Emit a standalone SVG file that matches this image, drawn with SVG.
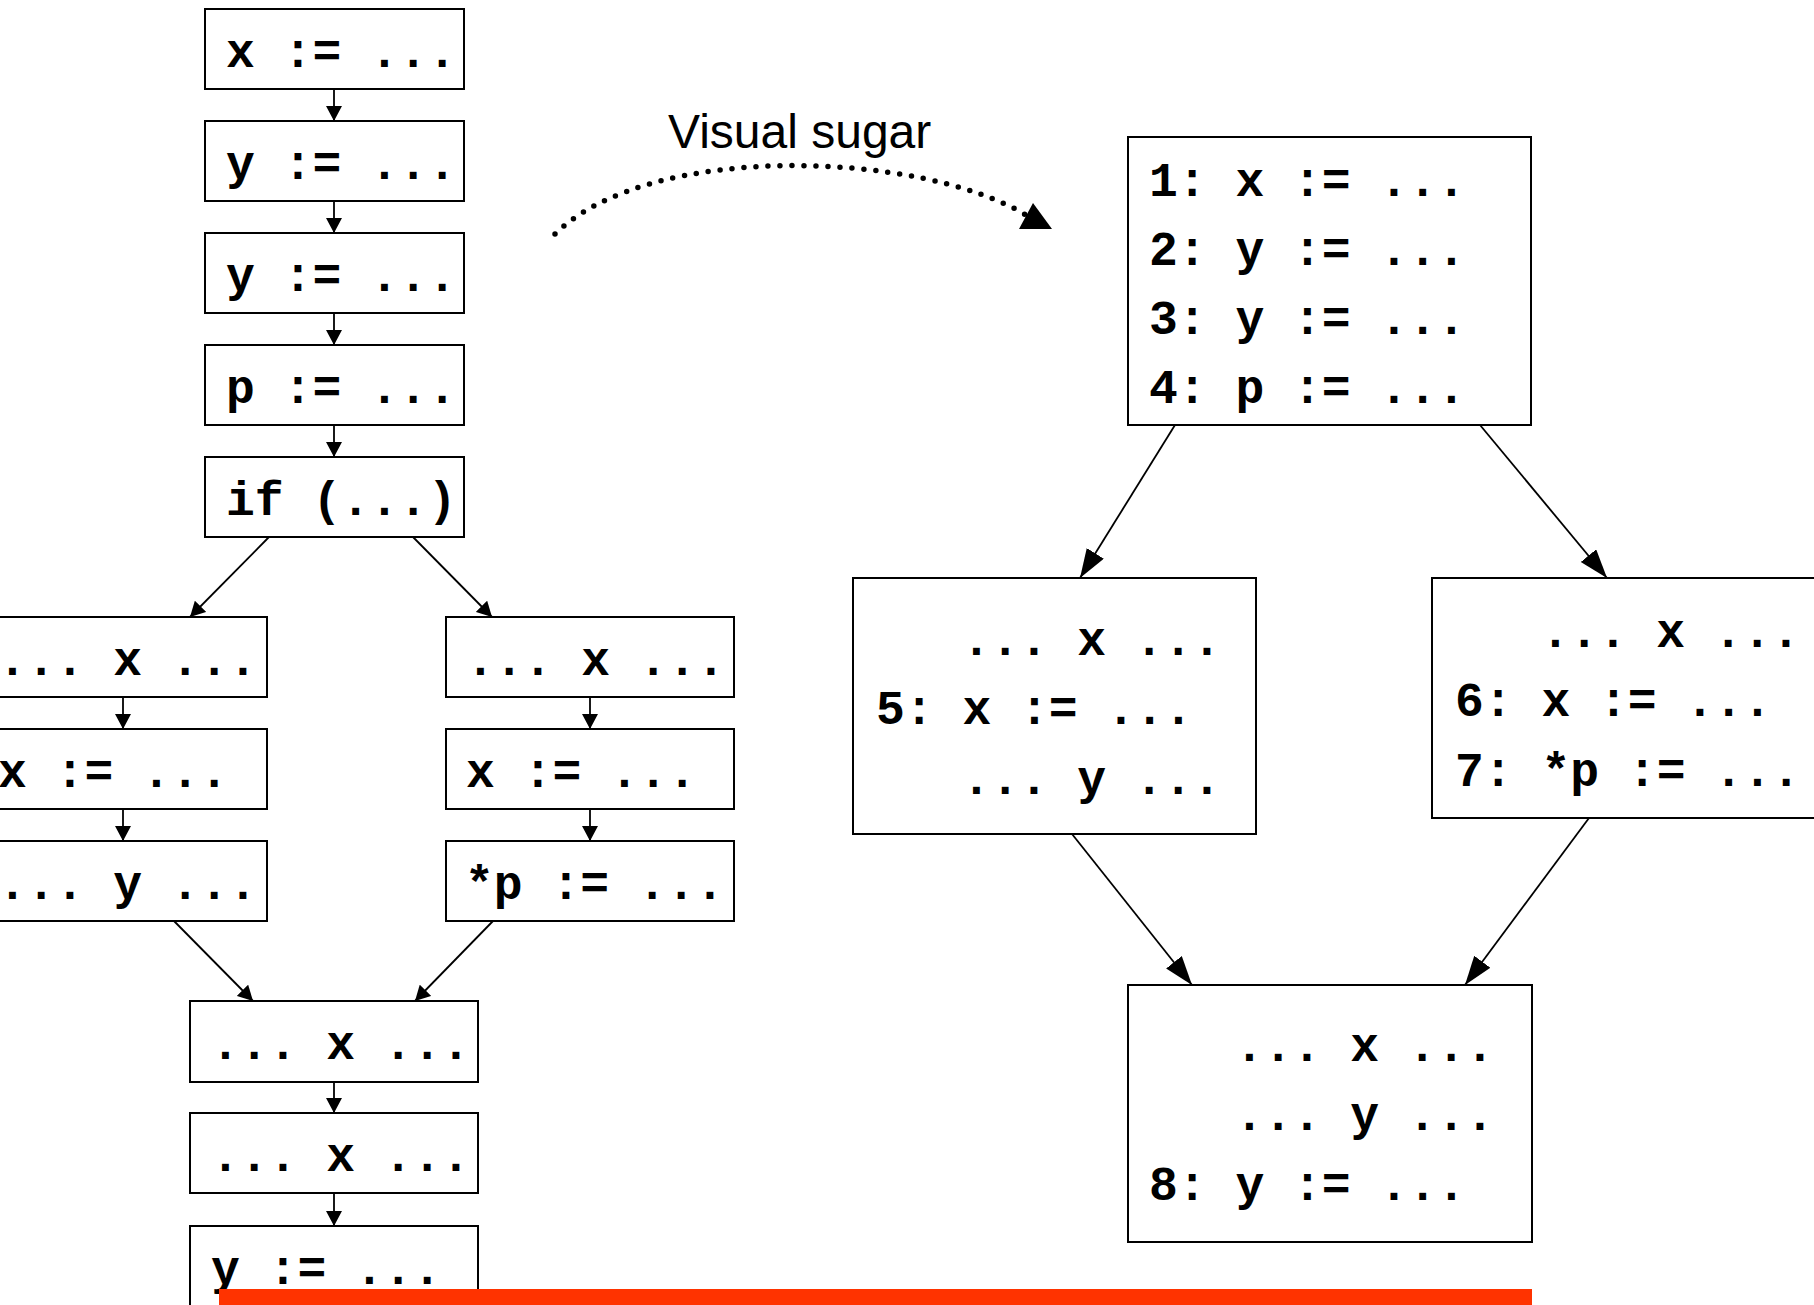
<svg xmlns="http://www.w3.org/2000/svg" width="1814" height="1305" viewBox="0 0 1814 1305">
  <style>
    .box { fill: #fff; stroke: #000; stroke-width: 2; }
    .code { font-family: 'Courier New', 'Liberation Mono', monospace; font-weight: bold; font-size: 48px; fill: #000; }
    .edge { fill: none; stroke: #000; stroke-width: 1.8; }
    .small { marker-end: url(#headS); }
    .big { marker-end: url(#headL); }
    .label { font-family: 'Liberation Sans', Arial, sans-serif; font-size: 48px; fill: #000; }
  </style>
  <defs>
    <marker id="headS" markerUnits="userSpaceOnUse" markerWidth="16" markerHeight="16" refX="15" refY="8" orient="auto">
      <path d="M0,0 L15,8 L0,16 z" fill="#000"/>
    </marker>
    <marker id="headL" markerUnits="userSpaceOnUse" markerWidth="30" markerHeight="22" refX="29" refY="10" orient="auto">
      <path d="M0,0 L29,10 L0,20 z" fill="#000"/>
    </marker>
  </defs>
  <rect width="1814" height="1305" fill="#fff"/>

  <!-- connectors -->
  <g id="connectors">
    <!-- left CFG: straight-line chain -->
    <line class="edge small" x1="334" y1="89" x2="334" y2="121"/>
    <line class="edge small" x1="334" y1="201" x2="334" y2="233"/>
    <line class="edge small" x1="334" y1="313" x2="334" y2="345"/>
    <line class="edge small" x1="334" y1="425" x2="334" y2="457"/>
    <!-- branch out of the if -->
    <line class="edge small" x1="269" y1="537" x2="190" y2="617"/>
    <line class="edge small" x1="413" y1="537" x2="492" y2="617"/>
    <!-- left branch -->
    <line class="edge small" x1="123" y1="697" x2="123" y2="729"/>
    <line class="edge small" x1="123" y1="809" x2="123" y2="841"/>
    <!-- right branch -->
    <line class="edge small" x1="590" y1="697" x2="590" y2="729"/>
    <line class="edge small" x1="590" y1="809" x2="590" y2="841"/>
    <!-- join -->
    <line class="edge small" x1="174" y1="921" x2="253" y2="1001"/>
    <line class="edge small" x1="493" y1="921" x2="415" y2="1001"/>
    <line class="edge small" x1="334" y1="1082" x2="334" y2="1113"/>
    <line class="edge small" x1="334" y1="1193" x2="334" y2="1226"/>

    <!-- "Visual sugar" dotted arc -->
    <path d="M555,234 C650,141 920,151 1026,215" fill="none" stroke="#000" stroke-width="5.5" stroke-linecap="round" stroke-dasharray="0 12"/>
    <polygon points="1052,229 1033,203 1019,229" fill="#000"/>

    <!-- basic-block graph -->
    <line class="edge big" x1="1175" y1="425" x2="1080" y2="578"/>
    <line class="edge big" x1="1480" y1="425" x2="1607" y2="578"/>
    <line class="edge big" x1="1072" y1="834" x2="1192" y2="985"/>
    <line class="edge big" x1="1589" y1="818" x2="1465" y2="985"/>
  </g>

  <!-- left CFG nodes -->
  <g id="n_x1"><rect class="box" x="205" y="9" width="259" height="80"/><text class="code" x="226" y="67">x := ...</text></g>
  <g id="n_y1"><rect class="box" x="205" y="121" width="259" height="80"/><text class="code" x="226" y="179">y := ...</text></g>
  <g id="n_y2"><rect class="box" x="205" y="233" width="259" height="80"/><text class="code" x="226" y="291">y := ...</text></g>
  <g id="n_p"><rect class="box" x="205" y="345" width="259" height="80"/><text class="code" x="226" y="403">p := ...</text></g>
  <g id="n_if"><rect class="box" x="205" y="457" width="259" height="80"/><text class="code" x="226" y="515">if (...)</text></g>

  <g id="n_l1"><rect class="box" x="-21" y="617" width="288" height="80"/><text class="code" x="-2" y="675">... x ...</text></g>
  <g id="n_l2"><rect class="box" x="-21" y="729" width="288" height="80"/><text class="code" x="-2" y="787">x := ...</text></g>
  <g id="n_l3"><rect class="box" x="-21" y="841" width="288" height="80"/><text class="code" x="-2" y="899">... y ...</text></g>

  <g id="n_r1"><rect class="box" x="446" y="617" width="288" height="80"/><text class="code" x="466" y="675">... x ...</text></g>
  <g id="n_r2"><rect class="box" x="446" y="729" width="288" height="80"/><text class="code" x="466" y="787">x := ...</text></g>
  <g id="n_r3"><rect class="box" x="446" y="841" width="288" height="80"/><text class="code" x="465" y="899">*p := ...</text></g>

  <g id="n_j1"><rect class="box" x="190" y="1001" width="288" height="81"/><text class="code" x="211" y="1059">... x ...</text></g>
  <g id="n_j2"><rect class="box" x="190" y="1113" width="288" height="80"/><text class="code" x="211" y="1171">... x ...</text></g>
  <g id="n_j3"><rect class="box" x="190" y="1226" width="288" height="100"/><text class="code" x="211" y="1284">y := ...</text></g>

  <!-- label -->
  <text class="label" x="668" y="148">Visual sugar</text>

  <!-- basic-block nodes -->
  <g id="b1">
    <rect class="box" x="1128" y="137" width="403" height="288"/>
    <text class="code" x="1149" y="196">1: x := ...</text>
    <text class="code" x="1149" y="265">2: y := ...</text>
    <text class="code" x="1149" y="334">3: y := ...</text>
    <text class="code" x="1149" y="403">4: p := ...</text>
  </g>
  <g id="b2">
    <rect class="box" x="853" y="578" width="403" height="256"/>
    <text class="code" x="962" y="655">... x ...</text>
    <text class="code" x="876" y="724">5: x := ...</text>
    <text class="code" x="962" y="794">... y ...</text>
  </g>
  <g id="b3">
    <rect class="box" x="1432" y="578" width="403" height="240"/>
    <text class="code" x="1541" y="647">... x ...</text>
    <text class="code" x="1455" y="716">6: x := ...</text>
    <text class="code" x="1455" y="786">7: *p := ...</text>
  </g>
  <g id="b4">
    <rect class="box" x="1128" y="985" width="404" height="257"/>
    <text class="code" x="1235" y="1061">... x ...</text>
    <text class="code" x="1235" y="1130">... y ...</text>
    <text class="code" x="1149" y="1200">8: y := ...</text>
  </g>

  <!-- red bar along the bottom, drawn over the last block -->
  <rect x="219" y="1289" width="1313" height="16" fill="#ff3300"/>
</svg>
